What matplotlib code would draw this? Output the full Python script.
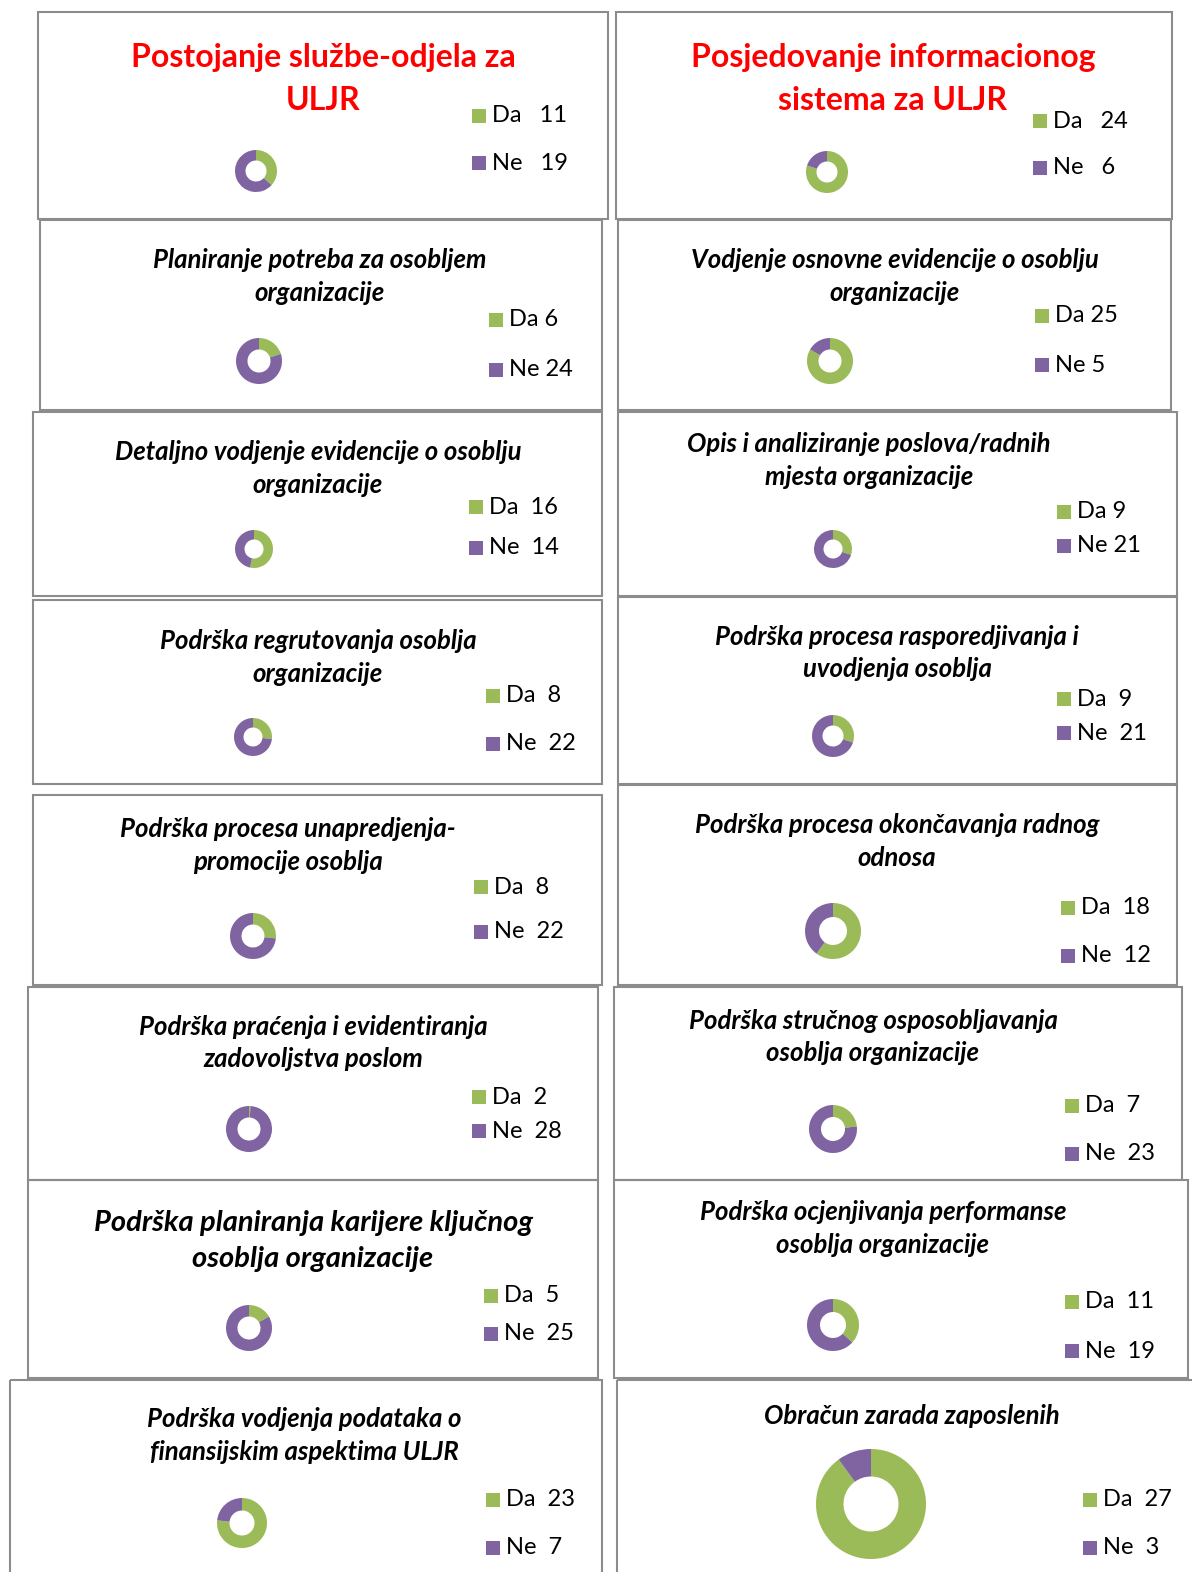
import matplotlib
matplotlib.use("Agg")
import matplotlib.pyplot as plt
from matplotlib.patches import Rectangle

plt.rcParams['font.family'] = ['Lato', 'DejaVu Sans']

# ---------------- data ----------------
titles = [
    "Postojanje službe-odjela za\nULJR",
    "Posjedovanje informacionog\nsistema za ULJR",
    "Planiranje potreba za osobljem\norganizacije",
    "Vodjenje osnovne evidencije o osoblju\norganizacije",
    "Detaljno vodjenje evidencije o osoblju\norganizacije",
    "Opis i analiziranje poslova/radnih\nmjesta organizacije",
    "Podrška regrutovanja osoblja\norganizacije",
    "Podrška procesa rasporedjivanja i\nuvodjenja osoblja",
    "Podrška procesa unapredjenja-\npromocije osoblja",
    "Podrška procesa okončavanja radnog\nodnosa",
    "Podrška praćenja i evidentiranja\nzadovoljstva poslom",
    "Podrška stručnog osposobljavanja\nosoblja organizacije",
    "Podrška planiranja karijere ključnog\nosoblja organizacije",
    "Podrška ocjenjivanja performanse\nosoblja organizacije",
    "Podrška vodjenja podataka o\nfinansijskim aspektima ULJR",
    "Obračun zarada zaposlenih",
]
categories = ["Da", "Ne"]
da_values = [11, 24, 6, 25, 16, 9, 8, 9, 8, 18, 2, 7, 5, 11, 23, 27]
ne_values = [19, 6, 24, 5, 14, 21, 22, 21, 22, 12, 28, 23, 25, 19, 7, 3]
# donut slice sizes as drawn in the picture (the "Da 2" donut shows only a sliver)
donut_da = [11, 24, 6, 25, 16, 9, 8, 9, 8, 18, 0.3, 7, 5, 11, 23, 27]
donut_ne = [19, 6, 24, 5, 14, 21, 22, 21, 22, 12, 28, 23, 25, 19, 7, 3]
legend_sep = ["   ", "   ", " ", " ", "  ", " ", "  ", "  ", "  ", "  ", "  ", "  ", "  ", "  ", "  ", "  "]

# ---------------- layout (pixels) ----------------
W, H = 1192, 1572
GREEN = "#9BBB59"
PURPLE = "#8064A2"
# box x0,y0,x1,y1 ; title cx, line1 y, line gap, size, color ; donut cx,cy,r ; legend x, yDa, yNe
layout = [
    ((38, 12, 608, 219), (323, 58, 42, 23, "red"), (256, 171, 21), (472, 116, 163)),
    ((616, 12, 1172, 219), (893, 58, 43, 23, "red"), (827, 172, 21), (1033, 121, 168)),
    ((40, 220, 602, 410), (320, 260, 33, 18.5, "black"), (259, 361, 23), (489, 320, 370)),
    ((618, 220, 1171, 410), (895, 260, 33, 18.5, "black"), (830, 361, 23), (1035, 316, 365)),
    ((33, 412, 602, 596), (318, 452, 33, 18.5, "black"), (254, 549, 19), (469, 507, 548)),
    ((618, 412, 1177, 596), (869, 444, 33, 18.5, "black"), (833, 549, 19), (1057, 512, 546)),
    ((33, 600, 602, 784), (318, 641, 33, 18.5, "black"), (253, 737, 19), (486, 696, 744)),
    ((618, 597, 1177, 784), (897, 637, 32, 18.5, "black"), (833, 736, 21), (1057, 699, 733)),
    ((33, 795, 602, 985), (288, 829, 33, 18.5, "black"), (253, 936, 23), (474, 887, 932)),
    ((618, 785, 1177, 985), (897, 825, 33, 18.5, "black"), (833, 931, 28), (1061, 908, 956)),
    ((28, 987, 598, 1180), (313, 1027, 32, 18.5, "black"), (249, 1129, 23), (472, 1097, 1131)),
    ((614, 987, 1182, 1180), (873, 1021, 32, 18.5, "black"), (833, 1129, 24), (1065, 1106, 1154)),
    ((28, 1180, 598, 1378), (313, 1223, 36, 21, "black"), (249, 1328, 23), (484, 1296, 1334)),
    ((614, 1180, 1188, 1378), (883, 1212, 33, 18.5, "black"), (833, 1325, 26), (1065, 1302, 1351)),
    ((10, 1380, 602, 1580), (304, 1419, 33, 18.5, "black"), (242, 1523, 25), (486, 1500, 1548)),
    ((617, 1380, 1200, 1580), (912, 1416, 33, 18.5, "black"), (871, 1504, 55), (1083, 1500, 1548)),
]

fig = plt.figure(figsize=(W / 100, H / 100), dpi=100)
bg = fig.add_axes([0, 0, 1, 1])
bg.set_xlim(0, W)
bg.set_ylim(H, 0)
bg.axis("off")

for i, (box, tit, dn, lg) in enumerate(layout):
    x0, y0, x1, y1 = box
    bg.add_patch(Rectangle((x0, y0), x1 - x0, y1 - y0, fill=False,
                           edgecolor="#8c8c8c", linewidth=1.5, zorder=1))
    cx, ty, gap, fs, col = tit
    style = "normal" if col == "red" else "italic"
    for k, line in enumerate(titles[i].split("\n")):
        bg.text(cx, ty + k * gap, line, ha="center", va="center", fontsize=fs,
                fontweight="bold", fontstyle=style, color=col, zorder=3)
    # donut
    dcx, dcy, r = dn
    ax = fig.add_axes([(dcx - r) / W, 1 - (dcy + r) / H, 2 * r / W, 2 * r / H])
    ax.pie([donut_da[i], donut_ne[i]], colors=[GREEN, PURPLE], startangle=90,
           counterclock=False, radius=1, wedgeprops=dict(width=0.5, linewidth=0))
    ax.set_xlim(-1, 1)
    ax.set_ylim(-1, 1)
    ax.set_aspect("equal")
    ax.axis("off")
    # legend
    lx, yda, yne = lg
    for cat, val, yy, c in [(categories[0], da_values[i], yda, GREEN),
                            (categories[1], ne_values[i], yne, PURPLE)]:
        bg.add_patch(Rectangle((lx, yy - 7), 14, 14, facecolor=c, edgecolor="none", zorder=3))
        bg.text(lx + 20, yy, f"{cat}{legend_sep[i]}{val}", ha="left", va="center",
                fontsize=17, color="black", zorder=3)

fig.savefig("out.png", dpi=100, facecolor="white")
